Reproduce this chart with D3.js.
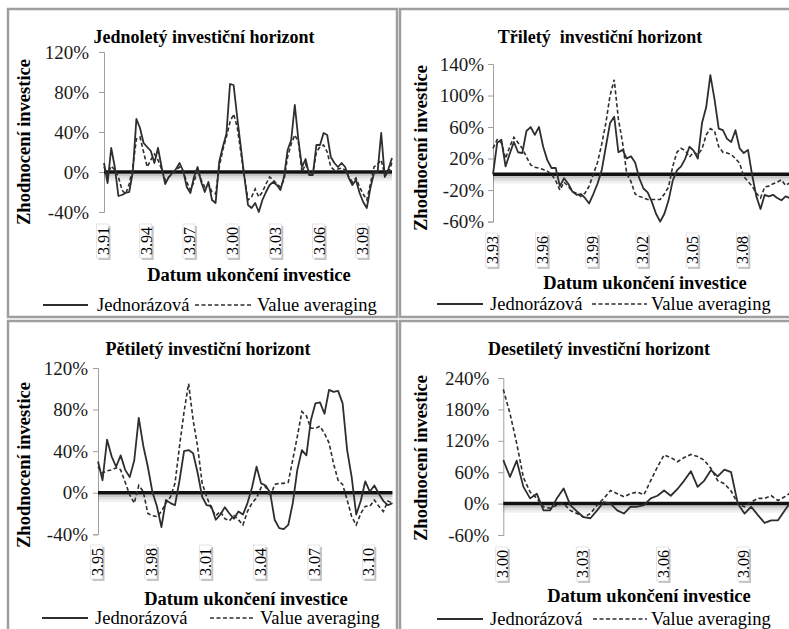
<!DOCTYPE html>
<html><head><meta charset="utf-8">
<script src="https://cdn.jsdelivr.net/npm/d3@7"></script>
<style>html,body{margin:0;padding:0;background:#fff;overflow:hidden;}</style>
</head><body>
<svg id="c" width="789" height="629"></svg>
<script>
// ---------- DATA ----------
const legendLabels = ["Jednorázová", "Value averaging"];
const yTitle = "Zhodnocení investice";
const xTitle = "Datum ukončení investice";

const oneYearTitle = "Jednoletý investiční horizont";
const oneYearStart = "3.91";
const oneYearXTicks = ["3.91","3.94","3.97","3.00","3.03","3.06","3.09"];
const oneYearYTicks = [-40,0,40,80,120];
const oneYearLump = [9,-11,24,5,-24,-23,-21,-20,0,53,44,29,25,21,9,24,5,-12,-5,-1,3,9,1,-15,-21,-5,5,-10,-20,-10,-28,-31,10,25,38,88,87,55,25,-5,-33,-36,-31,-40,-28,-20,-13,-10,-13,-18,-5,22,32,67,32,5,13,-3,-3,27,27,39,37,15,9,5,9,5,-6,-13,-8,-21,-30,-36,-16,-1,0,39,-5,3,14];
const oneYearVA = [5,-3,6,2,-5,-18,-22,-12,5,33,35,20,5,12,18,12,3,-8,-5,-2,2,5,0,-10,-18,-10,2,-8,-15,-12,-20,-22,5,22,35,50,58,45,20,-5,-28,-25,-17,-25,-20,-12,-5,-8,-12,-15,-8,15,28,37,30,0,8,-2,-2,20,25,27,20,5,2,3,4,2,-5,-10,-6,-15,-22,-28,-12,5,8,12,-3,-2,10];

const threeYearTitle = "Třiletý  investiční horizont";
const threeYearStart = "3.93";
const threeYearXTicks = ["3.93","3.96","3.99","3.02","3.05","3.08"];
const threeYearYTicks = [-60,-20,20,60,100,140];
const threeYearLump = [0,40,44,10,26,41,28,27,55,60,50,60,35,18,8,8,-15,-5,-12,-22,-26,-25,-30,-37,-25,-12,5,35,65,73,28,31,20,23,15,-5,-18,-23,-35,-50,-60,-50,-33,-8,5,10,20,35,30,20,65,85,126,95,58,56,45,41,56,33,27,31,-1,-28,-44,-26,-28,-26,-30,-33,-28,-30];
const threeYearVA = [33,44,40,20,35,47,40,33,22,12,9,8,6,4,0,-8,-20,-10,-15,-22,-24,-28,-24,-15,0,15,38,65,100,120,70,40,1,-9,-25,-28,-30,-32,-32,-32,-32,-25,-16,10,28,33,30,22,28,25,32,50,58,55,35,28,27,25,20,14,-3,-9,-15,-24,-30,-16,-15,-12,-10,-7,-14,-11];

const fiveYearTitle = "Pětiletý investiční horizont";
const fiveYearStart = "3.95";
const fiveYearXTicks = ["3.95","3.98","3.01","3.04","3.07","3.10"];
const fiveYearYTicks = [-40,0,40,80,120];
const fiveYearLump = [30,12,51,35,25,36,22,15,31,72,45,25,1,-13,-33,-7,-10,-12,12,40,41,38,19,-4,-12,-13,-26,-21,-14,-20,-25,-18,-21,-10,5,25,9,7,0,-26,-34,-35,-31,-10,22,41,36,70,86,87,76,99,97,98,86,41,15,-21,-8,11,1,7,-1,-8,-12,-10];
const fiveYearVA = [25,19,21,22,24,22,10,-2,-10,7,1,-20,-22,-23,-18,-10,-4,9,45,78,105,70,44,9,-4,-15,-22,-18,-25,-27,-22,-26,-31,-18,-10,-5,5,6,-4,8,9,9,10,32,54,78,74,62,62,64,57,48,28,12,8,-7,-23,-31,-20,-13,-13,-7,-13,-18,-8,-10];

const tenYearTitle = "Desetiletý investiční horizont";
const tenYearStart = "3.00";
const tenYearXTicks = ["3.00","3.03","3.06","3.09"];
const tenYearYTicks = [-60,0,60,120,180,240];
const tenYearLump = [83,51,82,32,10,19,-13,-13,10,29,-3,-15,-26,-28,-13,3,0,-13,-19,-6,-6,-3,10,15,25,15,28,44,62,32,44,64,52,65,60,0,-19,-6,-22,-37,-32,-32,-13,5];
const tenYearVA = [218,172,115,50,22,10,-6,-9,-3,0,-13,-19,-26,-19,-3,10,25,19,13,19,22,17,44,70,93,88,80,88,94,90,83,67,44,38,24,0,-6,3,10,10,15,6,13,22];

function quarters(start, n) {
  let [m, y] = start.split(".").map(Number);
  const out = [];
  for (let i = 0; i < n; i++) {
    out.push(m + "." + String(y % 100).padStart(2, "0"));
    m += 3; if (m > 12) { m -= 12; y += 1; }
  }
  return out;
}

// ---------- LAYOUT ----------
const panels = [
  {title: oneYearTitle, start: oneYearStart, xTicks: oneYearXTicks, yTicks: oneYearYTicks, lump: oneYearLump, va: oneYearVA,
   L: {box:[8,9,389,308], x0:104, step:3.6, yDom:[-40,120], yRange:[212,52], pad:10,
       yTitleX:24, yTitleY:142, titleX:204, titleY:43, xLabelTop:224, xTitleX:249, xTitleY:281,
       legY:305, leg:[43,88,97,195,253,257]}},
  {title: threeYearTitle, start: threeYearStart, xTicks: threeYearXTicks, yTicks: threeYearYTicks, lump: threeYearLump, va: threeYearVA,
   L: {box:[400,9,430,308], x0:493, step:4.18, yDom:[-60,140], yRange:[221.6,64], pad:4,
       yTitleX:421, yTitleY:148, titleX:600, titleY:43, xLabelTop:233, xTitleX:645, xTitleY:289,
       legY:304, leg:[437,483,490,592,647,651]}},
  {title: fiveYearTitle, start: fiveYearStart, xTicks: fiveYearXTicks, yTicks: fiveYearYTicks, lump: fiveYearLump, va: fiveYearVA,
   L: {box:[8,321,389,330], x0:98, step:4.53, yDom:[-40,120], yRange:[534.3,368], pad:5,
       yTitleX:24, yTitleY:465, titleX:208, titleY:355, xLabelTop:545, xTitleX:246, xTitleY:605,
       legY:618, leg:[42,88,95,210,255,260]}},
  {title: tenYearTitle, start: tenYearStart, xTicks: tenYearXTicks, yTicks: tenYearYTicks, lump: tenYearLump, va: tenYearVA,
   L: {box:[400,321,430,330], x0:503.3, step:6.7, yDom:[-60,240], yRange:[535,378], pad:9,
       yTitleX:421, yTitleY:458, titleX:599, titleY:355, xLabelTop:547, xTitleX:649, xTitleY:602,
       legY:619, leg:[437,483,490,593,647,651]}}
];

// ---------- DRAW ----------
const svg = d3.select("#c");
const SERIF = '"Tinos"';

function txt(sel, size, bold) {
  sel.style("font-family", SERIF).style("font-size", size + "px");
  if (bold) sel.style("font-weight", "bold");
  return sel;
}

panels.forEach(p => {
  const L = p.L;
  const g = svg.append("g");
  g.append("rect").attr("x",L.box[0]).attr("y",L.box[1]).attr("width",L.box[2]).attr("height",L.box[3])
    .attr("fill","none").attr("stroke","#9e9e9e").attr("stroke-width",2.5);

  const cats = quarters(p.start, p.lump.length);
  const xEnd = L.x0 + L.step * (cats.length - 1);
  const x = d3.scalePoint().domain(cats).range([L.x0, xEnd]);
  const y = d3.scaleLinear().domain(L.yDom).range(L.yRange);

  txt(g.append("text").attr("x",L.titleX).attr("y",L.titleY).attr("text-anchor","middle")
    .text(p.title.replace("  ", "\u00a0 ")), 18, true);

  const ya = g.append("g").attr("transform",`translate(${L.x0},0)`)
    .call(d3.axisLeft(y).tickValues(p.yTicks).tickFormat(d => d + "%").tickSize(5).tickPadding(L.pad));
  ya.attr("font-family", null).attr("font-size", null);
  ya.select(".domain").attr("stroke","#a0a0a0").attr("stroke-width",1);
  ya.selectAll(".tick line").attr("stroke","#a0a0a0");
  txt(ya.selectAll("text").attr("fill","#1a1a1a"), 19, false);

  txt(g.append("text").attr("transform",`translate(${L.yTitleX},${L.yTitleY}) rotate(-90)`)
    .attr("text-anchor","middle").attr("dy","0.35em").text(yTitle), 18.5, true);

  // zero axis with soft shadow (stacked translucent lines)
  [[3,0.22],[5.5,0.12],[8,0.06]].forEach(([off,op]) => {
    g.append("line").attr("x1",L.x0).attr("x2",xEnd).attr("y1",y(0)+off).attr("y2",y(0)+off)
      .attr("stroke","#000").attr("stroke-opacity",op).attr("stroke-width",2.5);
  });
  g.append("line").attr("x1",L.x0).attr("x2",xEnd).attr("y1",y(0)).attr("y2",y(0))
    .attr("stroke","#111").attr("stroke-width",3.5);

  const line = d3.line().x((d,i) => x(cats[i])).y(d => y(d));
  g.append("path").datum(p.lump).attr("d",line).attr("fill","none")
    .attr("stroke","#2e2e2e").attr("stroke-width",1.8).attr("stroke-linejoin","round");
  g.append("path").datum(p.va).attr("d",line).attr("fill","none")
    .attr("stroke","#2e2e2e").attr("stroke-width",1.6).attr("stroke-dasharray","4,2.5");

  // rotated category labels in boxes
  p.xTicks.forEach(t => {
    const cx = x(t) - 1;
    const gt = g.append("g").attr("transform",`translate(${cx},${L.xLabelTop})`);
    gt.append("rect").attr("x",-4.5).attr("y",2).attr("width",12).attr("height",34).attr("fill","#c4c4c4");
    gt.append("rect").attr("x",-6.5).attr("y",0).attr("width",12).attr("height",34)
      .attr("fill","#fff").attr("stroke","#d4d4d4").attr("stroke-width",0.6);
    txt(gt.append("text").attr("transform","translate(0,17) rotate(-90)").attr("text-anchor","middle").attr("dy","0.35em").text(t), 16, false);
  });

  txt(g.append("text").attr("x",L.xTitleX).attr("y",L.xTitleY).attr("text-anchor","middle").text(xTitle), 18.5, true);

  // legend
  const [a1,a2,at,b1,b2,bt] = L.leg;
  g.append("line").attr("x1",a1).attr("x2",a2).attr("y1",L.legY).attr("y2",L.legY).attr("stroke","#2e2e2e").attr("stroke-width",1.8);
  txt(g.append("text").attr("x",at).attr("y",L.legY+6).text(legendLabels[0]), 18.5, false);
  g.append("line").attr("x1",b1).attr("x2",b2).attr("y1",L.legY).attr("y2",L.legY).attr("stroke","#2e2e2e").attr("stroke-width",1.6).attr("stroke-dasharray","4,2.5");
  txt(g.append("text").attr("x",bt).attr("y",L.legY+6).text(legendLabels[1]), 18.5, false);
});
</script>
</body></html>
